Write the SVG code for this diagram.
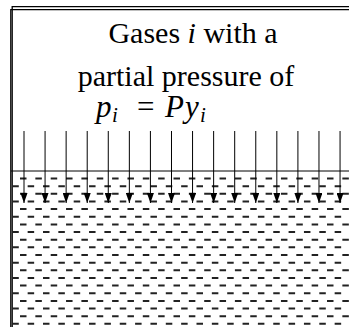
<svg xmlns="http://www.w3.org/2000/svg" width="349" height="327" viewBox="0 0 349 327">
<defs>
<style>
.frame{fill:none;stroke:#000;stroke-width:1.3}
.dA{stroke:#222;stroke-width:2;stroke-dasharray:6.5 8.85}
.surf{stroke:#000;stroke-width:1}
.shaft{stroke:#000;stroke-width:1}
.txt{font-family:"Liberation Serif","Times New Roman",serif;font-size:30px;fill:#000}
.m{font-family:"Liberation Serif","Times New Roman",serif;font-style:italic;fill:#000}
.mm{font-family:"Liberation Serif","Times New Roman",serif;font-style:italic;font-size:31px;fill:#000}
.sub{font-family:"Liberation Serif","Times New Roman",serif;font-style:italic;font-size:21px;fill:#000}
.eq{font-family:"Liberation Serif","Times New Roman",serif;font-size:31px;fill:#000}
</style>
<marker id="ah" viewBox="0 0 10 7" refX="10" refY="3.5" markerWidth="10" markerHeight="7" markerUnits="userSpaceOnUse" orient="auto">
<path d="M0,0 L10,3.5 L0,7 Z" fill="#000"/>
</marker>
</defs>
<rect width="349" height="327" fill="#fff"/>
<g id="container">
<path class="frame" d="M12.2,330 V6.6 H352"/>
<path class="frame" d="M10.8,330 V9.6 H352"/>
</g>
<g id="liquid">
<line class="surf" x1="11" y1="171" x2="349" y2="171"/>
<g id="dashes">
<line class="dA" x1="20" y1="178.5" x2="349" y2="178.5"/>
<line class="dA" x1="12.3" y1="186.15" x2="349" y2="186.15"/>
<line class="dA" x1="20" y1="193.8" x2="349" y2="193.8"/>
<line class="dA" x1="12.3" y1="201.45" x2="349" y2="201.45"/>
<line class="dA" x1="20" y1="209.1" x2="349" y2="209.1"/>
<line class="dA" x1="12.3" y1="216.75" x2="349" y2="216.75"/>
<line class="dA" x1="20" y1="224.4" x2="349" y2="224.4"/>
<line class="dA" x1="12.3" y1="232.05" x2="349" y2="232.05"/>
<line class="dA" x1="20" y1="239.7" x2="349" y2="239.7"/>
<line class="dA" x1="12.3" y1="247.35" x2="349" y2="247.35"/>
<line class="dA" x1="20" y1="255" x2="349" y2="255"/>
<line class="dA" x1="12.3" y1="262.65" x2="349" y2="262.65"/>
<line class="dA" x1="20" y1="270.3" x2="349" y2="270.3"/>
<line class="dA" x1="12.3" y1="277.95" x2="349" y2="277.95"/>
<line class="dA" x1="20" y1="285.6" x2="349" y2="285.6"/>
<line class="dA" x1="12.3" y1="293.25" x2="349" y2="293.25"/>
<line class="dA" x1="20" y1="300.9" x2="349" y2="300.9"/>
<line class="dA" x1="12.3" y1="308.55" x2="349" y2="308.55"/>
<line class="dA" x1="20" y1="316.2" x2="349" y2="316.2"/>
<line class="dA" x1="12.3" y1="323.85" x2="349" y2="323.85"/>
</g>
</g>
<g id="label">
<text class="txt" x="193" y="43" text-anchor="middle">Gases <tspan class="m">i</tspan> with a</text>
<text class="txt" x="186" y="86" text-anchor="middle">partial pressure of</text>
<text class="mm" x="96" y="117">p</text>
<text class="sub" x="112" y="122">i</text>
<text class="eq" x="137" y="117">=</text>
<text class="mm" x="165" y="117">P</text>
<text class="mm" x="185" y="117">y</text>
<text class="sub" x="200" y="122">i</text>
</g>
<g id="connectors">
<line class="shaft" x1="24" y1="131" x2="24" y2="203" marker-end="url(#ah)"/>
<line class="shaft" x1="45.07" y1="131" x2="45.07" y2="203" marker-end="url(#ah)"/>
<line class="shaft" x1="66.14" y1="131" x2="66.14" y2="203" marker-end="url(#ah)"/>
<line class="shaft" x1="87.21" y1="131" x2="87.21" y2="203" marker-end="url(#ah)"/>
<line class="shaft" x1="108.28" y1="131" x2="108.28" y2="203" marker-end="url(#ah)"/>
<line class="shaft" x1="129.35" y1="131" x2="129.35" y2="203" marker-end="url(#ah)"/>
<line class="shaft" x1="150.42" y1="131" x2="150.42" y2="203" marker-end="url(#ah)"/>
<line class="shaft" x1="171.49" y1="131" x2="171.49" y2="203" marker-end="url(#ah)"/>
<line class="shaft" x1="192.56" y1="131" x2="192.56" y2="203" marker-end="url(#ah)"/>
<line class="shaft" x1="213.63" y1="131" x2="213.63" y2="203" marker-end="url(#ah)"/>
<line class="shaft" x1="234.7" y1="131" x2="234.7" y2="203" marker-end="url(#ah)"/>
<line class="shaft" x1="255.77" y1="131" x2="255.77" y2="203" marker-end="url(#ah)"/>
<line class="shaft" x1="276.84" y1="131" x2="276.84" y2="203" marker-end="url(#ah)"/>
<line class="shaft" x1="297.91" y1="131" x2="297.91" y2="203" marker-end="url(#ah)"/>
<line class="shaft" x1="318.98" y1="131" x2="318.98" y2="203" marker-end="url(#ah)"/>
<line class="shaft" x1="340.05" y1="131" x2="340.05" y2="203" marker-end="url(#ah)"/>
</g>
</svg>
